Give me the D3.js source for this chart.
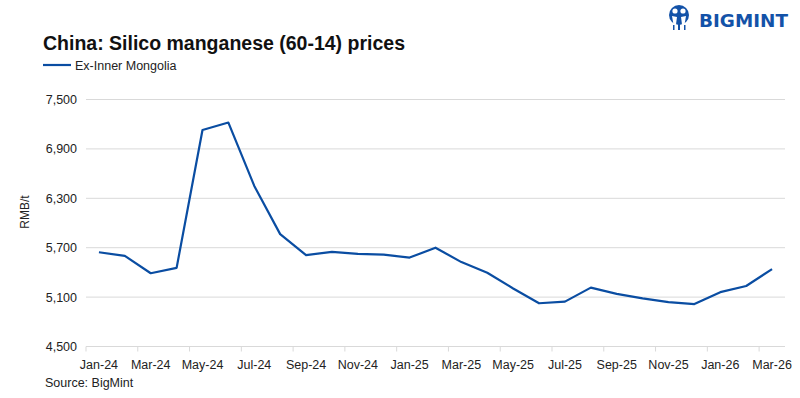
<!DOCTYPE html>
<html><head><meta charset="utf-8">
<script src="https://cdn.jsdelivr.net/npm/d3@7"></script>
<style>body{margin:0;background:#fff}svg{display:block;font-family:"Liberation Sans",Arial,sans-serif}</style>
</head><body><svg id="c" width="800" height="398"></svg>
<script>
const months = ["Jan-24","Feb-24","Mar-24","Apr-24","May-24","Jun-24","Jul-24","Aug-24","Sep-24","Oct-24","Nov-24","Dec-24",
"Jan-25","Feb-25","Mar-25","Apr-25","May-25","Jun-25","Jul-25","Aug-25","Sep-25","Oct-25","Nov-25","Dec-25",
"Jan-26","Feb-26","Mar-26"];
const exInnerMongolia = [5645,5600,5390,5455,7130,7220,6450,5865,5610,5650,5625,5615,
5580,5700,5525,5395,5205,5025,5045,5215,5140,5085,5040,5015,5160,5235,5440];
const yTicks = [4500,5100,5700,6300,6900,7500];
const title = "China: Silico manganese (60-14) prices";
const seriesName = "Ex-Inner Mongolia";
const yLabel = "RMB/t";
const source = "Source: BigMint";
const blue = "#0a4da2";

const svg = d3.select("#c");
const m = {l:86, r:785, t:99.5, b:346.5};
const x = d3.scaleBand().domain(months).range([m.l, m.r]);
const y = d3.scaleLinear().domain([4500,7500]).range([m.b, m.t]);

// gridlines
svg.append("g").selectAll("line").data(yTicks.slice(1)).join("line")
  .attr("x1", m.l).attr("x2", m.r).attr("y1", d=>y(d)).attr("y2", d=>y(d))
  .attr("stroke","#d9d9d9").attr("stroke-width",1);

// y axis labels
const yAxis = svg.append("g").attr("transform",`translate(${m.l},0)`)
  .call(d3.axisLeft(y).tickValues(yTicks).tickFormat(d3.format(",")).tickSize(0).tickPadding(9));
yAxis.select(".domain").remove();
yAxis.selectAll("text").attr("font-size",12.5).attr("fill","#222").attr("font-family","Liberation Sans, Arial, sans-serif");

// x axis
const xAxis = svg.append("g").attr("transform",`translate(0,${m.b})`)
  .call(d3.axisBottom(x).tickValues(months.filter((d,i)=>i%2===0)).tickSize(0).tickPadding(14));
xAxis.select(".domain").attr("stroke","#d9d9d9").attr("d",`M${m.l},0H${m.r}`);
xAxis.selectAll(".tick line").remove();
xAxis.selectAll("text").attr("font-size",12.5).attr("fill","#222").attr("font-family","Liberation Sans, Arial, sans-serif");
// tick marks at category boundaries every 2 months
const bounds = d3.range(0, months.length+1, 2).map(i => m.l + i*x.step());
svg.append("g").selectAll("line").data(bounds).join("line")
  .attr("x1",d=>d).attr("x2",d=>d).attr("y1",m.b).attr("y2",m.b+5)
  .attr("stroke","#d9d9d9").attr("stroke-width",1);

// line
const line = d3.line().x((d,i)=>x(months[i])+x.bandwidth()/2).y(d=>y(d));
svg.append("path").datum(exInnerMongolia).attr("d",line)
  .attr("fill","none").attr("stroke",blue).attr("stroke-width",2.2).attr("stroke-linejoin","round");

// y label
svg.append("text").attr("transform","translate(29,212) rotate(-90)").attr("text-anchor","middle")
  .attr("font-size",12).attr("fill","#222").text(yLabel);

// title
svg.append("text").attr("x",43).attr("y",50).attr("font-size",19.5).attr("font-weight","bold")
  .attr("fill","#111").attr("textLength",362).attr("lengthAdjust","spacingAndGlyphs").text(title);

// legend
svg.append("line").attr("x1",43).attr("x2",71).attr("y1",65).attr("y2",65).attr("stroke",blue).attr("stroke-width",2.2);
svg.append("text").attr("x",75).attr("y",69.5).attr("font-size",12.5).attr("fill","#222").text(seriesName);

// source
svg.append("text").attr("x",45).attr("y",387).attr("font-size",12.5).attr("fill","#222").text(source);

// logo
const logo = svg.append("g").attr("fill","#1352a8");
logo.append("circle").attr("cx",679).attr("cy",15).attr("r",10);
logo.append("circle").attr("cx",675).attr("cy",11).attr("r",2.6).attr("fill","#fff");
logo.append("circle").attr("cx",683).attr("cy",11).attr("r",2.6).attr("fill","#fff");
logo.append("path").attr("d","M672,16 Q673,24 675,29 L676,29 Q676,22 677,17 Z").attr("fill","#fff");
logo.append("path").attr("d","M686,16 Q685,24 683,29 L682,29 Q682,22 681,17 Z").attr("fill","#fff");
logo.append("rect").attr("x",678).attr("y",14).attr("width",2).attr("height",16);
logo.append("rect").attr("x",673).attr("y",25).attr("width",1.5).attr("height",5);
logo.append("rect").attr("x",684).attr("y",25).attr("width",1.5).attr("height",5);
logo.append("text").attr("x",699).attr("y",26.5).attr("font-size",17).attr("font-weight","bold")
  .attr("font-family","DejaVu Sans, sans-serif").attr("textLength",89).attr("lengthAdjust","spacingAndGlyphs").text("BIGMINT");
</script></body></html>
